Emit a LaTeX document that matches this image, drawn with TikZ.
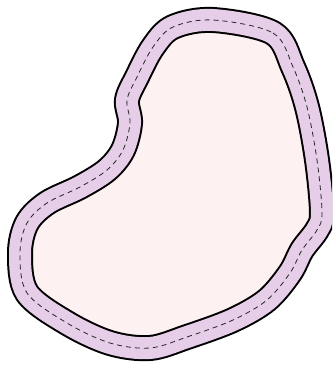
\documentclass[tikz,border=0pt]{standalone}
\definecolor{bandcol}{RGB}{230,205,232}
\definecolor{innercol}{RGB}{253,241,241}
\tikzset{
  outline/.style={draw=black,line width=26pt,line join=round},
  band/.style={draw=bandcol,line width=22pt,line join=round},
  midline/.style={draw=black!85,line width=0.8pt,dash pattern=on 5pt off 4pt}
}
\begin{document}
\begin{tikzpicture}[x=1pt,y=-1pt]
\useasboundingbox (0,0) rectangle (332,372);
\clip (0,0) rectangle (332,372);
\def\blob{plot[smooth cycle,tension=0.55] coordinates {
 (213,20) (273,33) (293,67) (307,107) (317,160) (322,213) (317,230)
 (302,250) (290,273) (267,300) (233,320) (187,337) (150,348) (110,343)
 (67,323) (27,293) (20,253) (27,223) (47,203) (80,187) (107,170)
 (123,150) (130,123) (127,100) (137,77) (153,47) (173,27)}}
\fill[innercol] \blob;
\draw[outline] \blob;
\draw[band] \blob;
\draw[midline] \blob;
\end{tikzpicture}
\end{document}
